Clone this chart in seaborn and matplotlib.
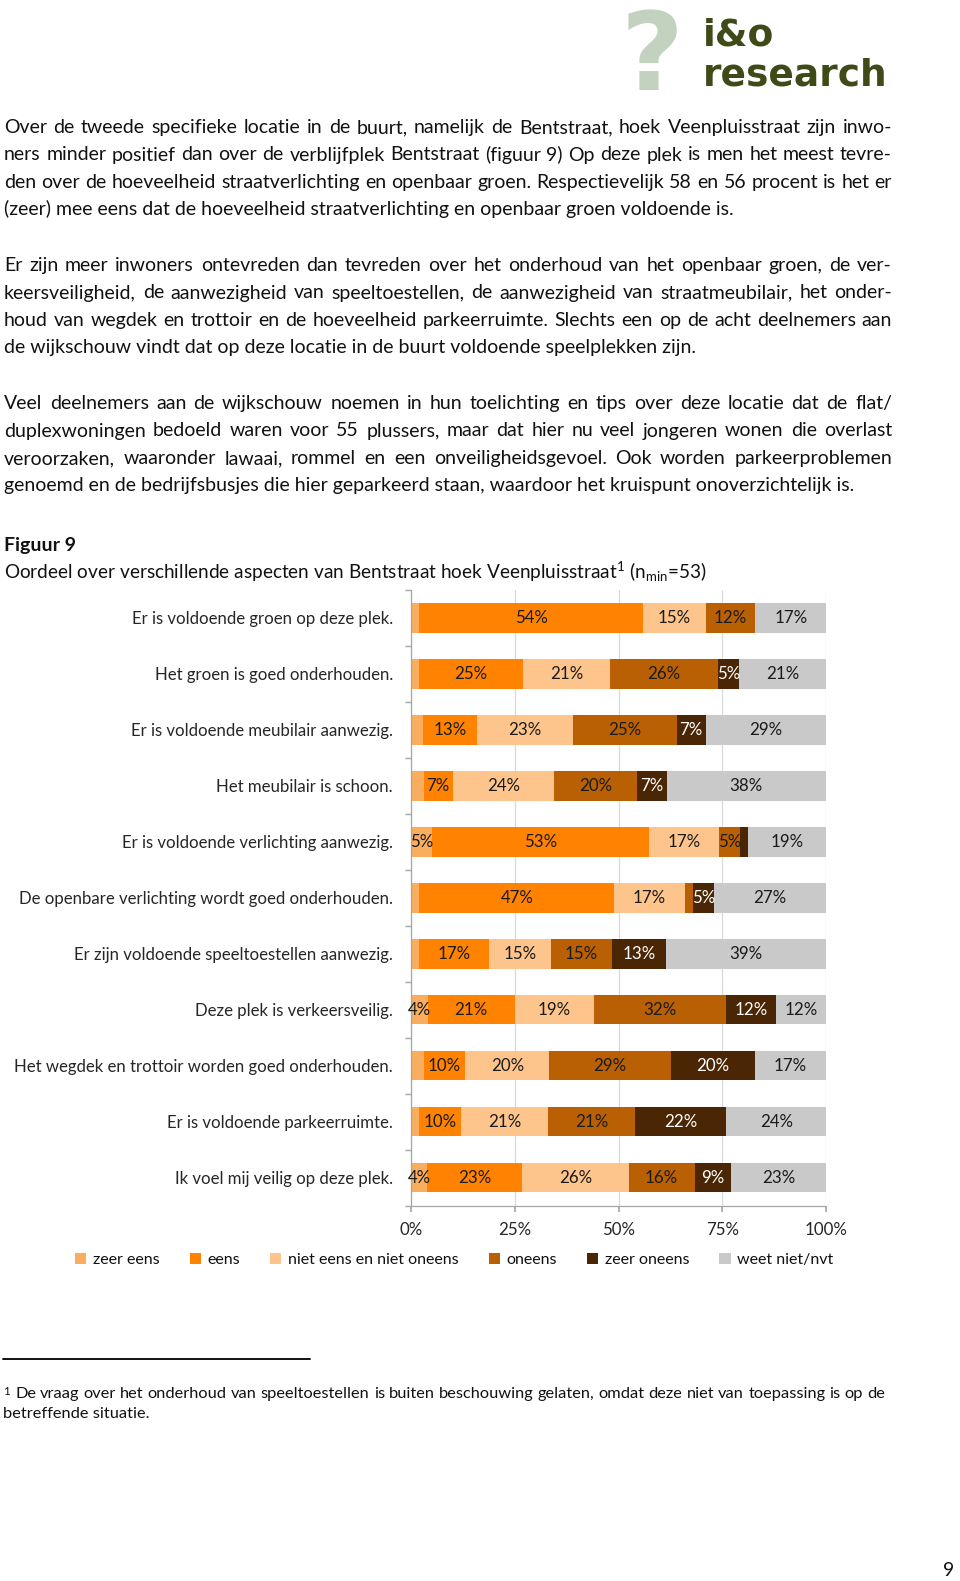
import numpy as np
import pandas as pd
import matplotlib
matplotlib.use('Agg')
import matplotlib.pyplot as plt
import seaborn as sns
from matplotlib.patches import Patch
from matplotlib.lines import Line2D

# ============================
# DATA
# ============================

stellingen = [
    'Er is voldoende groen op deze plek.',
    'Het groen is goed onderhouden.',
    'Er is voldoende meubilair aanwezig.',
    'Het meubilair is schoon.',
    'Er is voldoende verlichting aanwezig.',
    'De openbare verlichting wordt goed onderhouden.',
    'Er zijn voldoende speeltoestellen aanwezig.',
    'Deze plek is verkeersveilig.',
    'Het wegdek en trottoir worden goed onderhouden.',
    'Er is voldoende parkeerruimte.',
    'Ik voel mij veilig op deze plek.',
]

antwoorden = ['zeer eens', 'eens', 'niet eens en niet oneens',
              'oneens', 'zeer oneens', 'weet niet/nvt']

zeer_eens = [2, 2, 3, 3, 5, 2, 2, 4, 3, 2, 4]
eens = [54, 25, 13, 7, 53, 47, 17, 21, 10, 10, 23]
niet_eens = [15, 21, 23, 24, 17, 17, 15, 19, 20, 21, 26]
oneens = [12, 26, 25, 20, 5, 2, 15, 32, 29, 21, 16]
zeer_oneens = [0, 5, 7, 7, 2, 5, 13, 12, 20, 22, 9]
weet_niet = [17, 21, 29, 38, 19, 27, 39, 12, 17, 24, 23]

kleuren = ['#F9AD5E', '#FF8300', '#FDC58B', '#B96004', '#4A2604', '#C9C9C9']

alinea_1 = [
    'Over de tweede specifieke locatie in de buurt, namelijk de Bentstraat, hoek Veenpluisstraat zijn inwo-',
    'ners minder positief dan over de verblijfplek Bentstraat (figuur 9) Op deze plek is men het meest tevre-',
    'den over de hoeveelheid straatverlichting en openbaar groen. Respectievelijk 58 en 56 procent is het er',
    '(zeer) mee eens dat de hoeveelheid straatverlichting en openbaar groen voldoende is.',
]
alinea_2 = [
    'Er zijn meer inwoners ontevreden dan tevreden over het onderhoud van het openbaar groen, de ver-',
    'keersveiligheid, de aanwezigheid van speeltoestellen, de aanwezigheid van straatmeubilair, het onder-',
    'houd van wegdek en trottoir en de hoeveelheid parkeerruimte. Slechts een op de acht deelnemers aan',
    'de wijkschouw vindt dat op deze locatie in de buurt voldoende speelplekken zijn.',
]
alinea_3 = [
    'Veel deelnemers aan de wijkschouw noemen in hun toelichting en tips over deze locatie dat de flat/',
    'duplexwoningen bedoeld waren voor 55 plussers, maar dat hier nu veel jongeren wonen die overlast',
    'veroorzaken, waaronder lawaai, rommel en een onveiligheidsgevoel. Ook worden parkeerproblemen',
    'genoemd en de bedrijfsbusjes die hier geparkeerd staan, waardoor het kruispunt onoverzichtelijk is.',
]
voetnoot = [
    '$^{1}$ De vraag over het onderhoud van speeltoestellen is buiten beschouwing gelaten, omdat deze niet van toepassing is op de',
    'betreffende situatie.',
]

# ============================
# OPMAAK
# ============================

sns.set_theme(style='white')
plt.rcParams['font.family'] = ['Lato', 'DejaVu Sans']
plt.rcParams['mathtext.fontset'] = 'custom'
plt.rcParams['mathtext.rm'] = 'Lato'
plt.rcParams['mathtext.it'] = 'Lato:italic'
plt.rcParams['text.color'] = '#111111'

W, H = 960, 1581
fig = plt.figure(figsize=(W / 100, H / 100), dpi=100)
renderer = fig.canvas.get_renderer()


def fx(px):
    return px / W


def fy(py):
    return 1 - py / H


def regel(tekst, y, links=4, rechts=892, size=14, uitvullen=True):
    # uitgevulde regel: woorden los plaatsen en ruimte verdelen
    if not uitvullen:
        fig.text(fx(links), fy(y), tekst, fontsize=size, va='baseline')
        return
    woorden = tekst.split(' ')
    stukken = [fig.text(0, fy(y), w, fontsize=size, va='baseline') for w in woorden]
    breedtes = [t.get_window_extent(renderer).width for t in stukken]
    ruimte = (rechts - links - sum(breedtes)) / (len(woorden) - 1)
    x = links
    for t, b in zip(stukken, breedtes):
        t.set_x(fx(x))
        x += b + ruimte


for start, alinea in [(133, alinea_1), (271, alinea_2), (409, alinea_3)]:
    for i, tekst in enumerate(alinea):
        regel(tekst, start + 27.5 * i, uitvullen=(i < len(alinea) - 1))

fig.text(fx(4), fy(551), 'Figuur 9', fontsize=14, fontweight='bold', va='baseline')
fig.text(fx(4), fy(579),
         r'Oordeel over verschillende aspecten van Bentstraat hoek Veenpluisstraat$^{1}$ (n$_{\mathrm{min}}$=53)',
         fontsize=13.7, va='baseline')

# logo
fig.text(fx(652), fy(90), '?', fontsize=78, fontweight='bold', color='#C3D1BF',
         ha='center', va='baseline', family='DejaVu Sans')
fig.text(fx(703), fy(45), 'i&o', fontsize=27, fontweight='bold', color='#3E4A17',
         va='baseline', family='DejaVu Sans')
fig.text(fx(703), fy(85), 'research', fontsize=27, fontweight='bold', color='#3E4A17',
         va='baseline', family='DejaVu Sans')

# ============================
# GRAFIEK
# ============================

df = pd.DataFrame({
    'zeer eens': zeer_eens,
    'eens': eens,
    'niet eens en niet oneens': niet_eens,
    'oneens': oneens,
    'zeer oneens': zeer_oneens,
    'weet niet/nvt': weet_niet,
}, index=stellingen)

# 100% gestapeld: elke rij schalen naar 100
aandeel = df.div(df.sum(axis=1), axis=0) * 100
cumulatief = aandeel.cumsum(axis=1)

ax = fig.add_axes([fx(411), fy(1205.5), fx(826) - fx(411), fy(590) - fy(1205.5)])

for kolom, kleur in reversed(list(zip(antwoorden, kleuren))):
    sns.barplot(x=cumulatief[kolom].values, y=stellingen, color=kleur,
                saturation=1, width=0.53, orient='h', linewidth=0, ax=ax)

for i, stelling in enumerate(stellingen):
    begin = 0
    for kolom in antwoorden:
        breedte = aandeel.loc[stelling, kolom]
        waarde = df.loc[stelling, kolom]
        if waarde >= 4:
            ax.text(begin + breedte / 2, i, f'{waarde}%', ha='center', va='center',
                    fontsize=12.2,
                    color='white' if kolom == 'zeer oneens' else '#1A1A1A')
        begin += breedte

ax.set_xlim(0, 100)
ax.set_ylim(len(stellingen) - 0.5, -0.5)
ax.set_xticks([0, 25, 50, 75, 100])
ax.set_xticklabels(['0%', '25%', '50%', '75%', '100%'])
ax.set_yticks(np.arange(-0.5, len(stellingen), 1), minor=True)
ax.set_xlabel('')
ax.set_ylabel('')
ax.xaxis.grid(True, color='#D9D9D9', linewidth=0.9)
ax.set_axisbelow(True)

for kant in ['top', 'right']:
    ax.spines[kant].set_visible(False)
for kant in ['left', 'bottom']:
    ax.spines[kant].set_color('#A6A6A6')
    ax.spines[kant].set_linewidth(0.9)

ax.tick_params(axis='x', bottom=True, length=4, color='#A6A6A6', pad=8, labelsize=12.2)
ax.tick_params(axis='y', which='major', left=False, length=0, pad=13, labelsize=12.05)
ax.tick_params(axis='y', which='minor', left=True, length=4, color='#A6A6A6')

handles = [Patch(facecolor=k, edgecolor='none', label=a) for a, k in zip(antwoorden, kleuren)]
fig.legend(handles=handles, loc='center left', bbox_to_anchor=(fx(75), fy(1260)),
           ncol=6, frameon=False, fontsize=11.5, handlelength=0.7, handleheight=0.7,
           handletextpad=0.4, columnspacing=1.9, borderpad=0, borderaxespad=0)

# ============================
# VOETNOOT
# ============================

fig.add_artist(Line2D([fx(3), fx(310)], [fy(1359), fy(1359)], color='#111111', linewidth=1.4))
regel(voetnoot[0], 1398, links=3, rechts=885, size=11.8)
regel(voetnoot[1], 1418, links=3, size=11.8, uitvullen=False)

fig.text(fx(949), fy(1571), '9', fontsize=14, ha='center', va='center')

fig.savefig('out.png', dpi=100, facecolor='white')
